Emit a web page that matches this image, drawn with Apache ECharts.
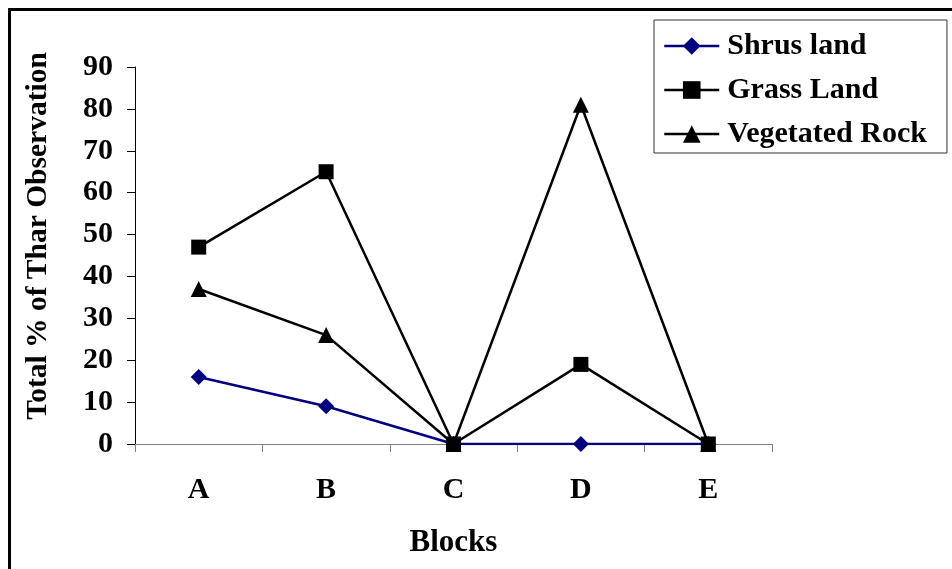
<!DOCTYPE html>
<html>
<head>
<meta charset="utf-8">
<script src="https://cdn.jsdelivr.net/npm/echarts@6/dist/echarts.min.js"></script>
<style>
html,body{margin:0;padding:0;background:#fff;}
#chart{width:952px;height:569px;}
</style>
</head>
<body>
<div id="chart"></div>
<script>
var categories = ['A', 'B', 'C', 'D', 'E'];
var shrusLand = [16, 9, 0, 0, 0];
var grassLand = [47, 65, 0, 19, 0];
var vegetatedRock = [37, 26, 0, 81, 0];
var yTicks = {min: 0, max: 90, interval: 10};
var seriesNames = ['Shrus land', 'Grass Land', 'Vegetated Rock'];
var xTitle = 'Blocks';
var yTitle = 'Total % of Thar Observation';

var FONT = '"Liberation Serif", "Times New Roman", serif';
var chart = echarts.init(document.getElementById('chart'), null, {renderer: 'canvas'});
chart.setOption({
  backgroundColor: '#ffffff',
  animation: false,
  grid: {left: 135, top: 67, right: 180, bottom: 125, containLabel: false},
  legend: {
    orient: 'vertical',
    left: 654, top: 20,
    padding: [11, 20, 4, 9],
    itemGap: 14,
    itemWidth: 55, itemHeight: 22,
    backgroundColor: '#fff',
    borderColor: '#333',
    borderWidth: 1,
    lineStyle: {width: 2.5},
    textStyle: {fontFamily: FONT, fontWeight: 'bold', fontSize: 30, color: '#000', lineHeight: 30, padding: [0, 0, 0, 3]},
    data: seriesNames
  },
  xAxis: {
    type: 'category',
    data: categories,
    boundaryGap: true,
    axisLine: {lineStyle: {color: '#808080', width: 1}},
    axisTick: {show: true, length: 8, lineStyle: {color: '#808080'}},
    axisLabel: {fontFamily: FONT, fontWeight: 'bold', fontSize: 30, color: '#000', margin: 31},
    splitLine: {show: false},
    name: xTitle,
    nameLocation: 'middle',
    nameGap: 83,
    nameTextStyle: {fontFamily: FONT, fontWeight: 'bold', fontSize: 31, color: '#000'}
  },
  yAxis: {
    type: 'value',
    min: yTicks.min, max: yTicks.max, interval: yTicks.interval,
    axisLine: {show: true, lineStyle: {color: '#000', width: 1}},
    axisTick: {show: true, length: 8, lineStyle: {color: '#000'}},
    axisLabel: {fontFamily: FONT, fontWeight: 'bold', fontSize: 30, color: '#000', margin: 22},
    splitLine: {show: false}
  },
  graphic: [
    {type: 'rect', shape: {x: 9.5, y: 9.5, width: 1200, height: 1200}, style: {fill: 'none', stroke: '#000', lineWidth: 3}, silent: true, z: 100},
    {type: 'text', x: 38, y: 236, rotation: Math.PI / 2,
     style: {text: yTitle, font: 'bold 29.5px ' + FONT, fill: '#000', textAlign: 'center', textVerticalAlign: 'middle'}}
  ],
  series: [
    {name: seriesNames[0], type: 'line', data: shrusLand, symbol: 'diamond', symbolSize: 16,
     lineStyle: {color: '#000080', width: 2.5}, itemStyle: {color: '#000080'}, z: 3},
    {name: seriesNames[1], type: 'line', data: grassLand, symbol: 'rect', symbolSize: 15,
     lineStyle: {color: '#000', width: 2.5}, itemStyle: {color: '#000'}, z: 4},
    {name: seriesNames[2], type: 'line', data: vegetatedRock, symbol: 'triangle', symbolSize: 16,
     lineStyle: {color: '#000', width: 2.5}, itemStyle: {color: '#000'}, z: 2}
  ]
});
</script>
</body>
</html>
